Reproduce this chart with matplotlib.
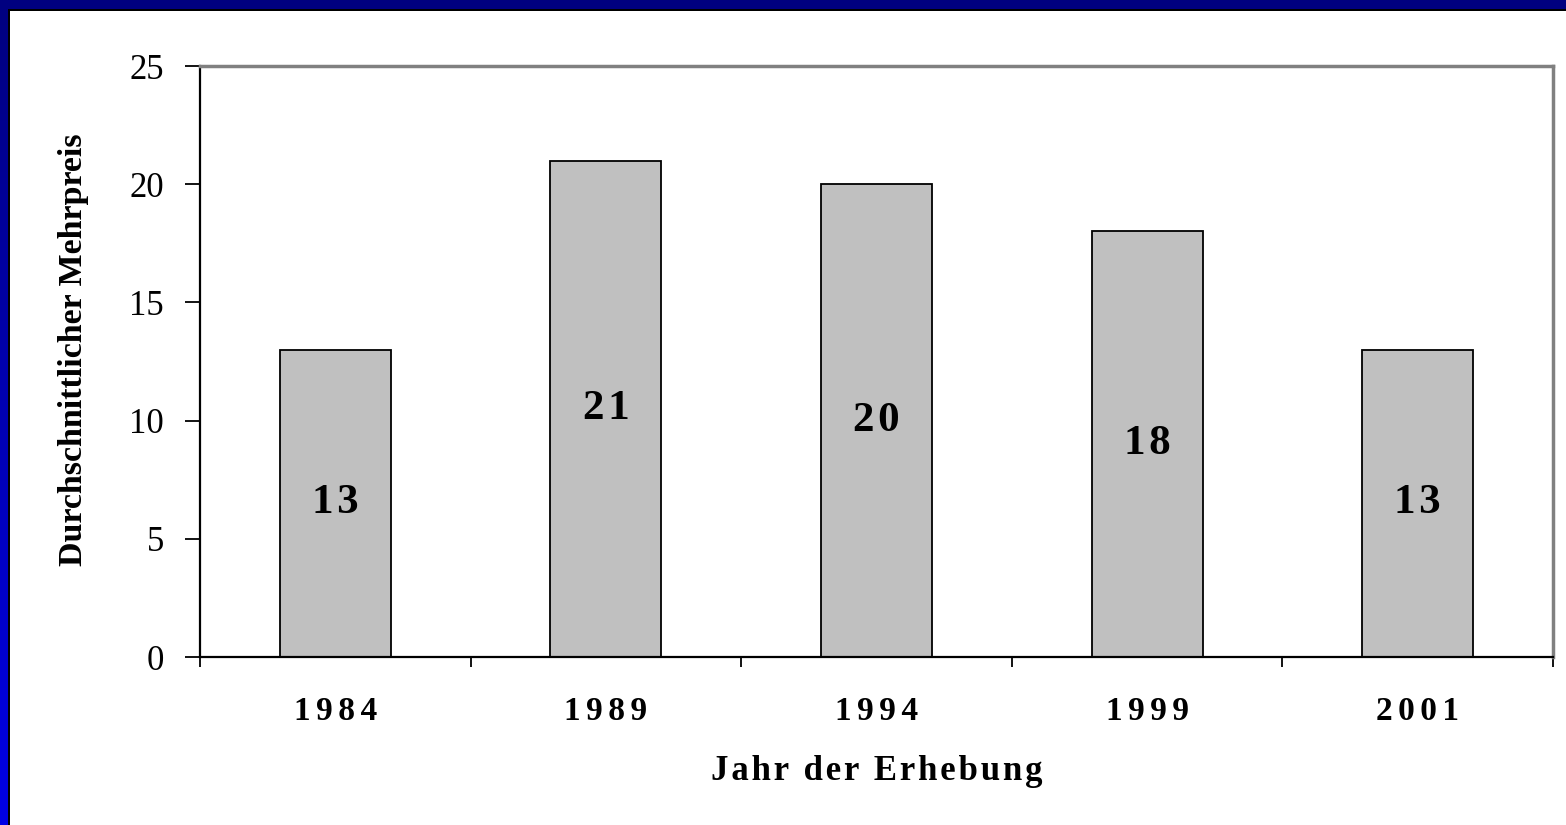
#!/usr/bin/env python3
import numpy as np
import matplotlib
matplotlib.use('Agg')
import matplotlib.pyplot as plt
from matplotlib.patches import Rectangle
from matplotlib.colors import LinearSegmentedColormap

plt.rcParams['font.family'] = ['Liberation Serif', 'DejaVu Serif']

years = ['1984', '1989', '1994', '1999', '2001']
mehrpreis = [13, 21, 20, 18, 13]
y_ticks = [0, 5, 10, 15, 20, 25]

HAIR = '\u200a'
SIXTH = '\u2006'

W, H = 1566, 825
fig = plt.figure(figsize=(W / 100, H / 100), dpi=100)
fig.patch.set_facecolor('white')

# blue frame: navy band on top, gradient strip on the left
top = Rectangle((0, 1 - 9 / H), 1, 9 / H, transform=fig.transFigure,
                facecolor='#000080', edgecolor='none', zorder=0)
topline = Rectangle((8 / W, 1 - 11.3 / H), 1, 2.3 / H, transform=fig.transFigure,
                    facecolor='black', edgecolor='none', zorder=0)
fig.patches.extend([top, topline])

bax = fig.add_axes([0, 0, 8 / W, 1 - 9 / H])
grad = np.linspace(0, 1, 256).reshape(-1, 1)
cmap = LinearSegmentedColormap.from_list('frame', ['#000080', '#0000e6'])
bax.imshow(grad, aspect='auto', cmap=cmap)
bax.axis('off')
leftline = Rectangle((8 / W, 0), 2.3 / W, 1 - 9 / H, transform=fig.transFigure,
                     facecolor='black', edgecolor='none', zorder=0)
fig.patches.append(leftline)

# chart
ax = fig.add_axes([200 / W, 1 - 657 / H, 1353 / W, (657 - 66) / H])
x = np.arange(len(years))
ax.bar(x, mehrpreis, width=0.41, color='#c0c0c0', edgecolor='black', linewidth=1.3, zorder=2)
for xi, v in zip(x, mehrpreis):
    ax.text(xi, v / 2, HAIR.join(str(v)), ha='center', va='center',
            fontsize=31, fontweight='bold', zorder=3)

ax.set_xlim(-0.5, len(years) - 0.5)
ax.set_ylim(0, 25)
ax.set_yticks(y_ticks)
ax.set_yticklabels([str(t) for t in y_ticks])
ax.tick_params(axis='y', labelsize=25, length=11, width=1.3, direction='out', pad=15)

ax.set_xticks(np.arange(-0.5, len(years), 1))
ax.set_xticklabels([])
ax.tick_params(axis='x', which='major', length=7.5, width=1.3, direction='out')
ax.set_xticks(x, minor=True)
ax.set_xticklabels([SIXTH.join(y) for y in years], minor=True, fontsize=24, fontweight='bold')
ax.tick_params(axis='x', which='minor', length=0, pad=28)

ax.set_xlabel(HAIR.join('Jahr der Erhebung'), fontsize=25, fontweight='bold', labelpad=20)
ax.set_ylabel('Durchschnittlicher Mehrpreis', fontsize=24.5, fontweight='bold')
ax.yaxis.set_label_coords(-0.082, 0.52)

for s in ['left', 'bottom']:
    ax.spines[s].set_linewidth(1.6)
    ax.spines[s].set_color('black')
for s in ['top', 'right']:
    ax.spines[s].set_linewidth(2.5)
    ax.spines[s].set_color('#808080')

fig.savefig('out.png', dpi=100)
